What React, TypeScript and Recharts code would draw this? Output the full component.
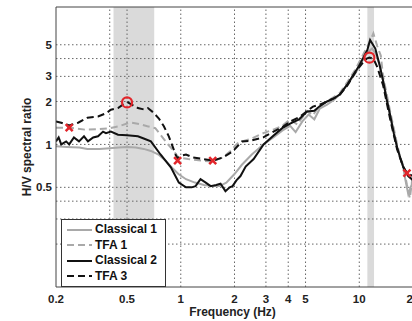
import {
  ComposedChart,
  Line,
  Scatter,
  XAxis,
  YAxis,
  ReferenceArea,
  ReferenceLine,
  Legend,
} from 'recharts'

const FONT = '"Liberation Sans", Arial, sans-serif'

// Classical 1 (light gray, solid)
const classical1F = [0.2, 0.23, 0.27, 0.3, 0.35, 0.4, 0.45, 0.5, 0.56, 0.62, 0.68, 0.75, 0.82, 0.9, 0.97, 1.07, 1.2, 1.35, 1.5, 1.65, 1.8, 2.0, 2.2, 2.5, 2.9, 3.3, 3.7, 4.1, 4.4, 4.8, 5.2, 5.6, 6.0, 6.6, 7.2, 7.8, 8.6, 9.5, 10.4, 11.2, 11.8, 12.4, 13.0, 13.6, 14.3, 14.9, 15.6, 16.3, 17.0, 17.6, 18.2, 18.8, 19.4, 20]
const classical1V = [0.97, 0.96, 0.95, 0.93, 0.93, 0.94, 0.95, 0.96, 0.95, 0.93, 0.9, 0.85, 0.77, 0.68, 0.62, 0.57, 0.54, 0.52, 0.51, 0.51, 0.54, 0.62, 0.72, 0.85, 1.0, 1.12, 1.25, 1.35, 1.22, 1.45, 1.62, 1.5, 1.78, 1.9, 2.05, 2.25, 2.65, 3.15, 3.85, 4.45, 4.7, 4.3, 3.6, 2.8, 2.1, 1.6, 1.25, 0.95, 0.8, 0.7, 0.55, 0.45, 0.5, 0.55]

// TFA 1 (light gray, dashed)
const tfa1F = [0.2, 0.24, 0.29, 0.35, 0.4, 0.45, 0.5, 0.53, 0.6, 0.65, 0.72, 0.8, 0.86, 0.9, 0.97, 1.1, 1.3, 1.5, 1.72, 1.9, 2.1, 2.5, 2.9, 3.3, 3.7, 4.1, 4.5, 5.1, 5.5, 6.0, 6.6, 7.2, 7.8, 8.6, 9.5, 10.4, 11.4, 12.0, 12.6, 13.2, 13.6, 14.2, 14.9, 15.6, 16.3, 17.0, 17.6, 18.5, 19.2, 20]
const tfa1V = [1.31, 1.31, 1.27, 1.28, 1.3, 1.34, 1.4, 1.42, 1.38, 1.34, 1.3, 1.1, 0.98, 0.92, 0.81, 0.79, 0.77, 0.76, 0.81, 0.9, 1.03, 1.1, 1.2, 1.27, 1.35, 1.5, 1.38, 1.72, 1.6, 1.88, 2.0, 2.15, 2.3, 2.75, 3.35, 4.15, 5.2, 6.0, 4.9, 4.2, 3.0, 2.3, 1.7, 1.3, 1.0, 0.8, 0.72, 0.52, 0.42, 0.62]

// Classical 2 (black, solid)
const classical2F = [0.2, 0.207, 0.214, 0.228, 0.237, 0.252, 0.269, 0.287, 0.302, 0.323, 0.344, 0.367, 0.381, 0.406, 0.445, 0.5, 0.575, 0.62, 0.68, 0.77, 0.88, 0.975, 1.07, 1.15, 1.21, 1.29, 1.38, 1.47, 1.58, 1.67, 1.78, 1.88, 1.95, 2.05, 2.16, 2.31, 2.56, 2.91, 3.3, 3.7, 4.1, 4.6, 5.1, 5.6, 6.0, 6.6, 7.2, 7.8, 8.6, 9.9, 11.1, 11.5, 12.3, 13.0, 13.6, 14.2, 14.9, 15.6, 16.3, 17.0, 17.6, 18.8, 20]
const classical2V = [1.05, 1.12, 1.0, 1.05, 1.0, 1.12, 1.05, 1.14, 1.05, 1.12, 1.14, 1.23, 1.2, 1.23, 1.17, 1.16, 1.14, 1.1, 1.05, 0.85, 0.69, 0.54, 0.5, 0.5, 0.51, 0.57, 0.54, 0.51, 0.52, 0.53, 0.47, 0.5, 0.51, 0.56, 0.6, 0.7, 0.79, 1.0, 1.15, 1.3, 1.4, 1.5, 1.7, 1.72, 1.85, 2.0, 2.1, 2.25, 2.65, 3.5, 4.6, 5.4, 4.7, 3.6, 2.8, 2.1, 1.6, 1.2, 0.95, 0.8, 0.7, 0.6, 0.56]

// TFA 3 (black, dashed)
const tfa3F = [0.2, 0.214, 0.237, 0.266, 0.3, 0.344, 0.38, 0.406, 0.445, 0.474, 0.506, 0.54, 0.575, 0.62, 0.654, 0.7, 0.754, 0.804, 0.857, 0.902, 0.938, 0.962, 1.0, 1.07, 1.17, 1.33, 1.51, 1.72, 1.95, 2.2, 2.46, 2.9, 3.31, 3.7, 4.12, 4.6, 5.12, 5.5, 6.0, 6.6, 7.2, 7.8, 8.6, 9.5, 10.4, 11.0, 11.4, 12.0, 12.6, 13.6, 14.9, 16.3, 17.6, 18.5, 20]
const tfa3V = [1.45, 1.42, 1.36, 1.42, 1.54, 1.57, 1.65, 1.75, 1.8, 1.9, 1.97, 1.88, 1.8, 1.76, 1.8, 1.68, 1.52, 1.34, 1.14, 0.96, 0.84, 0.8, 0.83, 0.85, 0.81, 0.79, 0.77, 0.81, 0.89, 1.05, 1.06, 1.12, 1.23, 1.32, 1.45, 1.55, 1.72, 1.84, 1.9, 2.0, 2.1, 2.24, 2.6, 3.2, 3.7, 4.0, 4.06, 4.0, 3.5, 2.6, 1.5, 0.92, 0.7, 0.63, 0.6]

// red markers
const peakF = [0.5, 11.4]
const peakV = [1.97, 4.06]
const troughF = [0.237, 0.96, 1.51, 18.5]
const troughV = [1.31, 0.77, 0.77, 0.63]

// shaded frequency bands
const bandLo = [0.42, 11.1]
const bandHi = [0.71, 12.1]

const xTicks = [0.2, 0.5, 1, 2, 3, 4, 5, 10, 20]
const yTicks = [0.5, 1, 2, 3, 4, 5]
const xGrid = [0.4, 0.5, 1, 2, 3, 4, 5, 10]
const yGrid = [0.2, 0.3, 0.4, 0.5, 1, 2, 3, 4, 5]

const zip = (f: number[], v: number[]) => f.map((x, i) => ({ f: x, v: v[i] }))

const series = [
  { name: 'Classical 1', data: zip(classical1F, classical1V), color: '#a9a9a9', dash: undefined },
  { name: 'TFA 1', data: zip(tfa1F, tfa1V), color: '#a9a9a9', dash: '7 4' },
  { name: 'Classical 2', data: zip(classical2F, classical2V), color: '#111', dash: undefined },
  { name: 'TFA 3', data: zip(tfa3F, tfa3V), color: '#111', dash: '7 4' },
]

const RED = '#e2262b'
const GRID = { stroke: '#666', strokeDasharray: '1.5 2.5', strokeWidth: 1 }

const RedCircle = (p: any) => (
  <circle cx={p.cx} cy={p.cy} r={5} fill="none" stroke={RED} strokeWidth={2.2} />
)

const RedCross = (p: any) => {
  const s = 3.5
  return (
    <path
      d={`M${p.cx - s},${p.cy - s}L${p.cx + s},${p.cy + s}M${p.cx - s},${p.cy + s}L${p.cx + s},${p.cy - s}`}
      stroke={RED}
      strokeWidth={2.5}
    />
  )
}

const renderLegend = () => (
  <div
    style={{
      border: '1px solid #333',
      background: '#fff',
      padding: '2px 8px 2px 5px',
      fontFamily: FONT,
      fontWeight: 'bold',
      fontSize: 12,
      lineHeight: '15.5px',
      color: '#111',
    }}
  >
    {series.map((s) => (
      <div key={s.name} style={{ display: 'flex', alignItems: 'center' }}>
        <svg width={25} height={8}>
          <line x1={0} x2={25} y1={4} y2={4} stroke={s.color} strokeWidth={2} strokeDasharray={s.dash} />
        </svg>
        <span style={{ marginLeft: 3 }}>{s.name}</span>
      </div>
    ))}
  </div>
)

const tickStyle = { fontSize: 11.5, fontWeight: 'bold', fill: '#222', fontFamily: FONT }

export default function App() {
  return (
    <div style={{ position: 'absolute', left: 0, top: 0, width: 412, height: 321, overflow: 'hidden', background: '#fff' }}>
      <ComposedChart width={440} height={321} margin={{ top: 7, right: 27, bottom: 0, left: 0 }}>
        {bandLo.map((lo, i) => (
          <ReferenceArea key={lo} x1={lo} x2={bandHi[i]} fill="#dadada" fillOpacity={1} stroke="none" ifOverflow="hidden" />
        ))}
        {yGrid.map((v) => (
          <ReferenceLine key={'y' + v} y={v} {...GRID} />
        ))}
        {xGrid.map((v) => (
          <ReferenceLine key={'x' + v} x={v} {...GRID} />
        ))}
        <XAxis
          dataKey="f"
          type="number"
          scale="log"
          domain={[0.2, 20]}
          allowDataOverflow
          ticks={xTicks}
          tick={tickStyle}
          tickLine={false}
          tickSize={4}
          tickMargin={4}
          axisLine={{ stroke: '#444' }}
          height={34}
          label={{
            content: ({ viewBox }: any) => (
              <text
                x={viewBox.x + viewBox.width / 2 - 2}
                y={316}
                textAnchor="middle"
                fontFamily={FONT}
                fontWeight="bold"
                fontSize={12}
                fill="#222"
              >
                Frequency (Hz)
              </text>
            ),
          }}
        />
        <YAxis
          dataKey="v"
          type="number"
          scale="log"
          domain={[0.1, 9.2]}
          allowDataOverflow
          ticks={yTicks}
          tick={tickStyle}
          tickLine={false}
          tickSize={2}
          tickMargin={2}
          axisLine={{ stroke: '#444' }}
          width={56}
          label={{
            content: ({ viewBox }: any) => {
              const cy = viewBox.y + viewBox.height / 2
              return (
                <text
                  x={27}
                  y={cy}
                  transform={`rotate(-90, 27, ${cy})`}
                  textAnchor="middle"
                  dominantBaseline="central"
                  fontFamily={FONT}
                  fontWeight="bold"
                  fontSize={12}
                  fill="#222"
                >
                  H/V spectral ratio
                </text>
              )
            },
          }}
        />
        <ReferenceLine y={9.2} stroke="#444" ifOverflow="visible" />
        {series.map((s) => (
          <Line
            key={s.name}
            data={s.data}
            dataKey="v"
            name={s.name}
            type="linear"
            stroke={s.color}
            strokeWidth={2}
            strokeDasharray={s.dash}
            dot={false}
            activeDot={false}
            isAnimationActive={false}
          />
        ))}
        <Scatter data={zip(troughF, troughV)} dataKey="v" shape={RedCross} isAnimationActive={false} />
        <Scatter data={zip(peakF, peakV)} dataKey="v" shape={RedCircle} isAnimationActive={false} />
        <Legend
          layout="vertical"
          align="center"
          verticalAlign="middle"
          content={renderLegend}
          wrapperStyle={{ left: 61, top: 219, width: 'auto' }}
        />
      </ComposedChart>
    </div>
  )
}
